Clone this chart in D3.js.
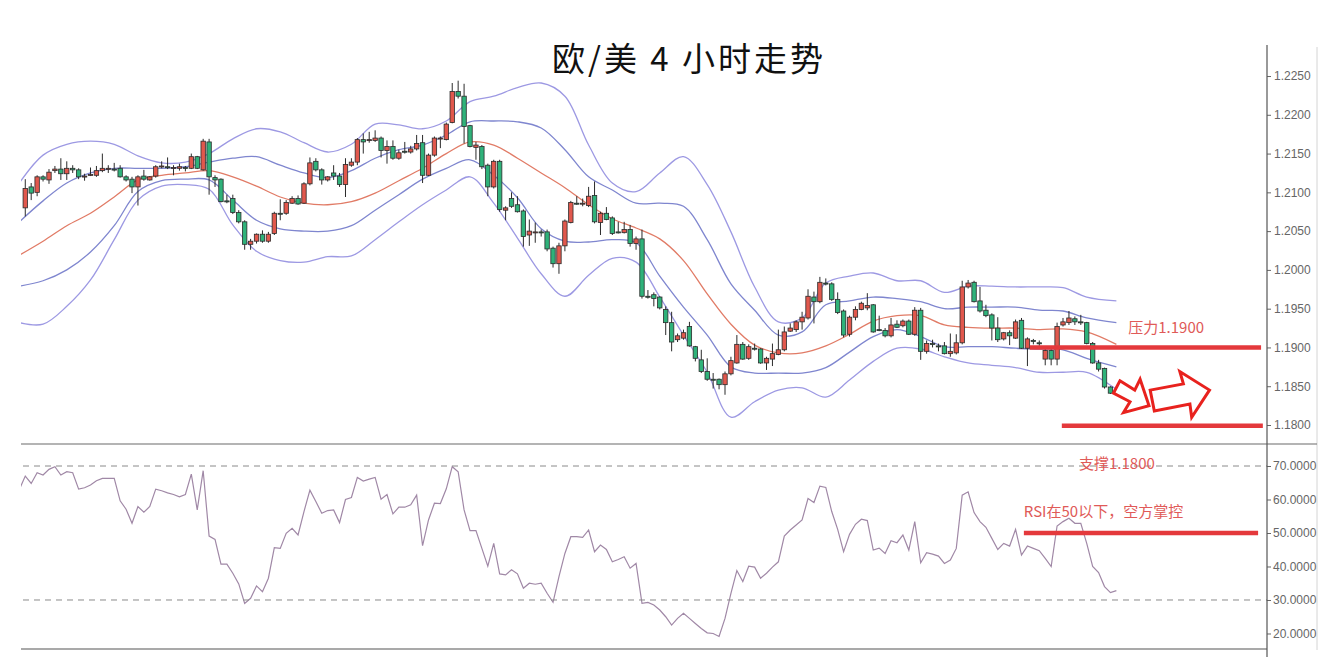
<!DOCTYPE html>
<html><head><meta charset="utf-8">
<script src="https://cdn.jsdelivr.net/npm/d3@7"></script>
<style>
html,body{margin:0;padding:0;background:#fff;}
svg{display:block;}
</style></head><body>
<svg id="chart" width="1325" height="657"></svg>
<script>
const titleText = "欧/美 4 小时走势";

const opens = [1.2080,1.2107,1.2100,1.2120,1.2116,1.2128,1.2130,1.2124,1.2131,1.2129,1.2120,1.2122,1.2122,1.2128,1.2130,1.2130,1.2131,1.2120,1.2117,1.2107,
1.2121,1.2116,1.2121,1.2133,1.2133,1.2132,1.2131,1.2132,1.2131,1.2146,1.2129,1.2165,1.2119,1.2117,1.2089,1.2092,1.2074,1.2062,1.2033,1.2037,
1.2046,1.2037,1.2047,1.2073,1.2073,1.2086,1.2092,1.2086,1.2111,1.2140,1.2129,1.2116,1.2125,1.2121,1.2110,1.2135,1.2139,1.2168,1.2167,1.2167,
1.2170,1.2154,1.2159,1.2144,1.2153,1.2152,1.2156,1.2164,1.2122,1.2148,1.2169,1.2168,1.2190,1.2230,1.2224,1.2186,1.2158,1.2159,1.2135,1.2107,
1.2140,1.2077,1.2092,1.2084,1.2076,1.2045,1.2048,1.2049,1.2049,1.2028,1.2008,1.2031,1.2061,1.2086,1.2085,1.2083,1.2096,1.2061,1.2073,1.2067,
1.2049,1.2048,1.2052,1.2034,1.2040,1.1966,1.1968,1.1965,1.1949,1.1932,1.1910,1.1912,1.1927,1.1901,1.1884,1.1869,1.1859,1.1859,1.1852,1.1866,
1.1880,1.1904,1.1886,1.1899,1.1898,1.1880,1.1885,1.1891,1.1897,1.1921,1.1923,1.1933,1.1938,1.1965,1.1959,1.1983,1.1982,1.1962,1.1947,1.1917,
1.1939,1.1949,1.1951,1.1955,1.1923,1.1922,1.1915,1.1930,1.1928,1.1934,1.1917,1.1948,1.1895,1.1905,1.1902,1.1902,1.1892,1.1893,1.1906,1.1978,
1.1984,1.1960,1.1948,1.1942,1.1925,1.1911,1.1919,1.1912,1.1935,1.1899,1.1909,1.1906,1.1885,1.1896,1.1885,1.1929,1.1932,1.1937,1.1933,1.1932,
1.1905,1.1880,1.1873,1.1849,1.1841];
const highs = [1.2117,1.2112,1.2122,1.2122,1.2130,1.2134,1.2144,1.2140,1.2135,1.2131,1.2124,1.2132,1.2134,1.2150,1.2135,1.2138,1.2135,1.2122,1.2120,1.2122,
1.2129,1.2121,1.2135,1.2140,1.2145,1.2135,1.2137,1.2134,1.2150,1.2147,1.2169,1.2169,1.2122,1.2118,1.2097,1.2097,1.2077,1.2064,1.2040,1.2047,
1.2051,1.2049,1.2075,1.2091,1.2090,1.2095,1.2096,1.2113,1.2145,1.2144,1.2131,1.2121,1.2135,1.2125,1.2144,1.2144,1.2170,1.2176,1.2178,1.2180,
1.2172,1.2167,1.2167,1.2155,1.2165,1.2160,1.2174,1.2174,1.2150,1.2172,1.2172,1.2190,1.2241,1.2244,1.2240,1.2187,1.2165,1.2161,1.2137,1.2142,
1.2142,1.2082,1.2100,1.2095,1.2078,1.2065,1.2061,1.2052,1.2052,1.2030,1.2035,1.2065,1.2089,1.2095,1.2092,1.2107,1.2114,1.2075,1.2081,1.2069,
1.2062,1.2062,1.2058,1.2043,1.2052,1.1974,1.1971,1.1966,1.1953,1.1946,1.1918,1.1923,1.1933,1.1902,1.1897,1.1886,1.1867,1.1860,1.1869,1.1888,
1.1916,1.1907,1.1904,1.1905,1.1899,1.1888,1.1905,1.1923,1.1927,1.1931,1.1935,1.1946,1.1975,1.1972,1.1991,1.1989,1.1984,1.1971,1.1949,1.1941,
1.1953,1.1959,1.1970,1.1956,1.1941,1.1925,1.1938,1.1935,1.1936,1.1936,1.1952,1.1951,1.1909,1.1910,1.1905,1.1907,1.1918,1.1917,1.1986,1.1987,
1.1986,1.1978,1.1955,1.1944,1.1939,1.1920,1.1922,1.1936,1.1938,1.1913,1.1911,1.1909,1.1899,1.1898,1.1932,1.1938,1.1947,1.1940,1.1942,1.1933,
1.1907,1.1884,1.1874,1.1850,1.1844];
const lows = [1.2069,1.2090,1.2095,1.2114,1.2111,1.2125,1.2116,1.2116,1.2125,1.2117,1.2115,1.2121,1.2120,1.2126,1.2125,1.2127,1.2119,1.2114,1.2099,1.2083,
1.2115,1.2115,1.2119,1.2131,1.2130,1.2122,1.2128,1.2127,1.2130,1.2130,1.2128,1.2097,1.2107,1.2087,1.2086,1.2072,1.2060,1.2026,1.2026,1.2034,
1.2035,1.2035,1.2045,1.2064,1.2071,1.2085,1.2084,1.2085,1.2109,1.2127,1.2110,1.2114,1.2116,1.2107,1.2094,1.2133,1.2135,1.2150,1.2164,1.2165,
1.2145,1.2137,1.2142,1.2142,1.2150,1.2150,1.2154,1.2112,1.2121,1.2146,1.2157,1.2167,1.2189,1.2221,1.2163,1.2158,1.2142,1.2130,1.2095,1.2105,
1.2075,1.2064,1.2080,1.2074,1.2030,1.2031,1.2035,1.2043,1.2024,1.2003,1.1995,1.2024,1.2060,1.2084,1.2082,1.2081,1.2060,1.2045,1.2064,1.2045,
1.2047,1.2047,1.2030,1.2026,1.1963,1.1963,1.1953,1.1949,1.1916,1.1895,1.1907,1.1910,1.1901,1.1882,1.1867,1.1857,1.1847,1.1846,1.1839,1.1864,
1.1879,1.1884,1.1884,1.1896,1.1879,1.1871,1.1876,1.1890,1.1895,1.1920,1.1920,1.1923,1.1936,1.1931,1.1957,1.1980,1.1960,1.1943,1.1913,1.1914,
1.1935,1.1948,1.1948,1.1919,1.1921,1.1913,1.1913,1.1925,1.1926,1.1916,1.1915,1.1884,1.1892,1.1900,1.1895,1.1891,1.1888,1.1891,1.1904,1.1976,
1.1958,1.1945,1.1939,1.1909,1.1907,1.1909,1.1903,1.1911,1.1898,1.1876,1.1904,1.1902,1.1877,1.1877,1.1877,1.1927,1.1929,1.1929,1.1929,1.1904,
1.1879,1.1869,1.1847,1.1840,1.1838];
const closes = [1.2105,1.2099,1.2120,1.2117,1.2126,1.2130,1.2124,1.2131,1.2129,1.2120,1.2121,1.2123,1.2128,1.2131,1.2131,1.2129,1.2120,1.2116,1.2107,1.2120,
1.2117,1.2120,1.2133,1.2134,1.2132,1.2132,1.2133,1.2131,1.2146,1.2131,1.2166,1.2120,1.2116,1.2088,1.2088,1.2074,1.2062,1.2033,1.2037,1.2046,
1.2037,1.2046,1.2073,1.2072,1.2087,1.2092,1.2085,1.2111,1.2138,1.2129,1.2116,1.2120,1.2121,1.2110,1.2136,1.2139,1.2168,1.2165,1.2168,1.2170,
1.2154,1.2159,1.2144,1.2151,1.2152,1.2156,1.2163,1.2122,1.2148,1.2170,1.2170,1.2188,1.2230,1.2224,1.2185,1.2159,1.2161,1.2133,1.2107,1.2140,
1.2078,1.2080,1.2082,1.2075,1.2043,1.2050,1.2049,1.2048,1.2027,1.2008,1.2031,1.2063,1.2087,1.2085,1.2086,1.2095,1.2062,1.2073,1.2065,1.2047,
1.2048,1.2052,1.2034,1.2040,1.1966,1.1965,1.1963,1.1951,1.1932,1.1907,1.1915,1.1919,1.1902,1.1886,1.1869,1.1859,1.1858,1.1852,1.1866,1.1883,
1.1904,1.1885,1.1901,1.1898,1.1880,1.1886,1.1892,1.1897,1.1920,1.1925,1.1933,1.1939,1.1966,1.1959,1.1984,1.1982,1.1962,1.1945,1.1916,1.1939,
1.1949,1.1957,1.1954,1.1920,1.1922,1.1915,1.1929,1.1926,1.1934,1.1917,1.1948,1.1895,1.1905,1.1904,1.1901,1.1892,1.1895,1.1906,1.1978,1.1983,
1.1959,1.1947,1.1941,1.1925,1.1910,1.1919,1.1915,1.1933,1.1899,1.1911,1.1908,1.1905,1.1896,1.1885,1.1927,1.1933,1.1938,1.1933,1.1932,1.1905,
1.1880,1.1872,1.1849,1.1841,1.1842];

// Bollinger bands (bar index, upper 2σ, upper 1σ, middle, lower 1σ, lower 2σ)
const bandBars = [-1,3,7,11,15,19,23,27,31,35,39,43,47,51,55,59,63,67,71,75,79,83,87,91,95,99,103,107,111,115,119,123,127,131,135,139,143,147,151,155,159,163,167,171,175,179,184];
const bandUpper2 = [1.2112,1.2148,1.2162,1.2166,1.2162,1.2147,1.2138,1.2139,1.2150,1.2169,1.2182,1.2178,1.2164,1.2152,1.2162,1.2188,1.2187,1.2182,1.2192,1.2217,1.2224,1.2235,1.2241,1.2224,1.2161,1.2112,1.2101,1.2125,1.2146,1.2110,1.2049,1.1978,1.1933,1.1938,1.1983,1.1992,1.1996,1.1986,1.1986,1.1971,1.1979,1.1979,1.1978,1.1978,1.1977,1.1965,1.1960];
const bandUpper1 = [1.2062,1.2089,1.2112,1.2125,1.2131,1.2131,1.2131,1.2133,1.2139,1.2144,1.2146,1.2135,1.2125,1.2119,1.2128,1.2144,1.2155,1.2161,1.2174,1.2191,1.2192,1.2191,1.2183,1.2155,1.2120,1.2103,1.2086,1.2086,1.2082,1.2039,1.1982,1.1948,1.1916,1.1920,1.1955,1.1960,1.1965,1.1963,1.1959,1.1950,1.1952,1.1952,1.1952,1.1948,1.1947,1.1938,1.1932];
const bandMiddle = [1.2019,1.2037,1.2057,1.2073,1.2094,1.2116,1.2122,1.2125,1.2128,1.2120,1.2108,1.2094,1.2086,1.2084,1.2088,1.2099,1.2115,1.2131,1.2150,1.2165,1.2161,1.2144,1.2125,1.2106,1.2084,1.2066,1.2054,1.2040,1.2012,1.1969,1.1930,1.1903,1.1893,1.1893,1.1902,1.1917,1.1934,1.1941,1.1941,1.1929,1.1926,1.1925,1.1925,1.1923,1.1924,1.1920,1.1904];
const bandLower1 = [1.1979,1.1986,1.2000,1.2023,1.2057,1.2101,1.2115,1.2117,1.2116,1.2090,1.2064,1.2053,1.2050,1.2050,1.2057,1.2077,1.2097,1.2117,1.2131,1.2142,1.2122,1.2093,1.2053,1.2037,1.2036,1.2039,1.2035,1.1992,1.1952,1.1916,1.1875,1.1867,1.1867,1.1867,1.1874,1.1894,1.1914,1.1923,1.1914,1.1901,1.1901,1.1901,1.1899,1.1898,1.1897,1.1886,1.1875];
const bandLower2 = [1.1932,1.1930,1.1953,1.1987,1.2039,1.2090,1.2108,1.2110,1.2104,1.2058,1.2024,1.2012,1.2010,1.2017,1.2018,1.2039,1.2062,1.2084,1.2103,1.2120,1.2086,1.2041,1.1995,1.1966,1.1993,1.2015,1.2010,1.1965,1.1916,1.1868,1.1810,1.1830,1.1845,1.1848,1.1836,1.1858,1.1882,1.1899,1.1898,1.1888,1.1880,1.1877,1.1874,1.1868,1.1868,1.1868,1.1846];

// RSI, first value belongs to bar -1
const rsiFirstBar = -1;
const rsiValues = [63.0,67.0,64.8,68.0,67.3,69.0,69.8,67.3,68.3,68.0,63.1,63.5,64.3,65.6,66.3,66.3,66.3,59.6,57.1,52.9,
57.9,56.2,57.9,63.1,62.6,62.0,61.5,60.8,61.5,67.6,56.9,68.6,49.1,48.1,40.7,40.7,38.0,34.8,29.0,30.5,
34.2,32.5,36.5,45.6,45.4,49.9,51.4,49.4,56.4,62.8,59.4,55.9,56.7,56.9,53.1,60.0,60.6,66.6,65.5,66.1,
66.6,60.1,61.5,55.7,57.7,57.7,58.4,61.3,46.2,53.9,58.9,58.8,63.2,69.8,68.3,56.9,50.7,50.7,45.4,40.1,
46.9,37.8,37.5,39.0,37.8,33.5,35.0,34.7,35.0,32.0,29.3,37.0,43.9,48.9,48.9,48.7,50.9,44.4,46.4,45.1,
41.4,42.1,42.9,39.5,40.9,29.0,29.3,28.5,27.0,25.0,22.5,24.5,26.0,24.5,23.0,21.5,20.2,20.0,19.1,24.5,
32.0,38.8,35.5,40.1,39.8,36.5,38.0,39.8,41.4,49.1,50.9,52.4,53.9,60.3,59.1,64.0,63.6,56.4,51.1,44.4,
49.6,52.6,54.1,53.7,44.9,45.5,43.9,47.7,47.1,49.4,44.9,53.4,41.1,44.1,43.7,43.1,40.9,41.9,45.4,61.3,
62.3,56.1,53.4,51.7,48.4,45.1,46.9,46.1,51.1,43.4,46.1,45.4,44.7,42.4,40.0,52.1,53.4,54.4,52.9,52.9,
46.9,40.0,38.2,34.0,32.2,32.8];

const priceTicks = [1.1800,1.1850,1.1900,1.1950,1.2000,1.2050,1.2100,1.2150,1.2200,1.2250];
const rsiTicks = [20,30,40,50,60,70];
const rsiLevels = [70,30];

// annotations (bar index, value)
const resistance = {price:1.1900, from:169.4, to:208.4, label:"压力1.1900", labelBar:186, labelPrice:1.1918};
const support = {price:1.1799, from:174.8, to:208.7, label:"支撑1.1800", labelBar:177.7, labelRsi:69.1};
const rsiNote = {value:50, from:168.4, to:207.9, label:"RSI在50以下，空方掌控", labelBar:168.4, labelRsi:54.8};
const arrowDown = [[184.6,1.1857],[187.1,1.1845],[188.0,1.1859],[189.5,1.1825],[185.2,1.1816],[186.3,1.1830],[183.5,1.1841]];
const arrowRight = [[189.7,1.1845],[195.3,1.1853],[194.7,1.1869],[199.7,1.1845],[196.7,1.1810],[196.4,1.1827],[190.4,1.1818]];

const svg = d3.select("#chart");
const plotLeft = 21, axisX = 1267, borderX = 1317;
const mainTop = 45, mainBottom = 444, rsiBottom = 649;

const x = d3.scaleLinear().domain([-0.72, 209.4]).range([plotLeft, axisX]);
const yMain = d3.scaleLinear().domain([1.17755, 1.2290]).range([mainBottom, mainTop]);
const yRsi = d3.scaleLinear().domain([15.37, 76.57]).range([rsiBottom, mainBottom]);

const defs = svg.append("defs");
defs.append("clipPath").attr("id","clipMain").append("rect")
  .attr("x",plotLeft).attr("y",mainTop).attr("width",axisX-plotLeft).attr("height",mainBottom-mainTop);
defs.append("clipPath").attr("id","clipRsi").append("rect")
  .attr("x",plotLeft).attr("y",mainBottom).attr("width",axisX-plotLeft).attr("height",rsiBottom-mainBottom);

// title
svg.append("text").attr("x",689).attr("y",71).attr("text-anchor","middle")
  .attr("font-family","'Noto Sans CJK SC','Noto Sans',sans-serif").attr("font-size",33)
  .attr("letter-spacing","3px").attr("fill","#111").text(titleText);

// frame lines
svg.append("line").attr("x1",borderX).attr("x2",borderX).attr("y1",47).attr("y2",650).attr("stroke","#d4d4d4").attr("stroke-width",1);
svg.append("line").attr("x1",plotLeft).attr("x2",borderX).attr("y1",mainBottom).attr("y2",mainBottom).attr("stroke","#6a6a6a").attr("stroke-width",1.2);
svg.append("line").attr("x1",plotLeft).attr("x2",axisX).attr("y1",rsiBottom).attr("y2",rsiBottom).attr("stroke","#555").attr("stroke-width",1.2);

// main panel content
const gMain = svg.append("g").attr("clip-path","url(#clipMain)");
const bandIdx = d3.range(bandBars.length);
const bandLine = (arr) => d3.line().x(i => x(bandBars[i])).y(i => yMain(arr[i])).curve(d3.curveCatmullRom.alpha(0.5))(bandIdx);
[[bandUpper2,"#9d99e3"],[bandUpper1,"#7f86cf"],[bandLower1,"#7f86cf"],[bandLower2,"#9d99e3"],[bandMiddle,"#e17b66"]].forEach(([arr,col]) => {
  gMain.append("path").attr("d",bandLine(arr)).attr("fill","none").attr("stroke",col).attr("stroke-width",1.3);
});

const idx = d3.range(opens.length);
const upColor = "#e1584d", downColor = "#2fb27a";
gMain.selectAll("line.wick").data(idx).enter().append("line")
  .attr("x1",i=>x(i)).attr("x2",i=>x(i)).attr("y1",i=>yMain(highs[i])).attr("y2",i=>yMain(lows[i]))
  .attr("stroke","#2b2b2b").attr("stroke-width",1);
const bw = 4.4;
gMain.selectAll("rect.body").data(idx).enter().append("rect")
  .attr("x",i=>x(i)-bw/2).attr("width",bw)
  .attr("y",i=>yMain(Math.max(opens[i],closes[i])))
  .attr("height",i=>Math.max(1, Math.abs(yMain(opens[i])-yMain(closes[i]))))
  .attr("fill",i=> closes[i] >= opens[i] ? upColor : downColor)
  .attr("stroke","#2b2b2b").attr("stroke-width",0.8);

// annotations main
const annRed = "#e4393c", annText = "#e05a58";
svg.append("line").attr("x1",x(resistance.from)).attr("x2",x(resistance.to)).attr("y1",yMain(resistance.price)).attr("y2",yMain(resistance.price))
  .attr("stroke",annRed).attr("stroke-width",4.5);
svg.append("line").attr("x1",x(support.from)).attr("x2",x(support.to)).attr("y1",yMain(support.price)).attr("y2",yMain(support.price))
  .attr("stroke",annRed).attr("stroke-width",4.5);
svg.append("text").attr("x",x(resistance.labelBar)).attr("y",yMain(resistance.labelPrice))
  .attr("font-family","'Noto Sans CJK SC',sans-serif").attr("font-size",15).attr("fill",annText).text(resistance.label);
const arrowLine = d3.line().x(d=>x(d[0])).y(d=>yMain(d[1]));
[arrowDown, arrowRight].forEach(a => {
  svg.append("path").attr("d",arrowLine(a)+"Z").attr("fill","#fff").attr("stroke","#e8221e").attr("stroke-width",3).attr("stroke-linejoin","miter");
});

// RSI panel
const gRsi = svg.append("g").attr("clip-path","url(#clipRsi)");
rsiLevels.forEach(v => {
  svg.append("line").attr("x1",plotLeft+2).attr("x2",axisX).attr("y1",yRsi(v)).attr("y2",yRsi(v))
    .attr("stroke","#8a8a8a").attr("stroke-width",1).attr("stroke-dasharray","6,5");
});
const rsiLine = d3.line().x((d,i)=>x(rsiFirstBar+i)).y(d=>yRsi(d));
gRsi.append("path").attr("d",rsiLine(rsiValues)).attr("fill","none").attr("stroke","#a088a6").attr("stroke-width",1.2);

svg.append("line").attr("x1",x(rsiNote.from)).attr("x2",x(rsiNote.to)).attr("y1",yRsi(rsiNote.value)).attr("y2",yRsi(rsiNote.value))
  .attr("stroke",annRed).attr("stroke-width",4.5);
svg.append("text").attr("x",x(rsiNote.labelBar)).attr("y",yRsi(rsiNote.labelRsi))
  .attr("font-family","'Noto Sans CJK SC',sans-serif").attr("font-size",15).attr("fill",annText).text(rsiNote.label);
svg.append("text").attr("x",x(support.labelBar)).attr("y",yRsi(support.labelRsi))
  .attr("font-family","'Noto Sans CJK SC',sans-serif").attr("font-size",15).attr("fill",annText).text(support.label);

// axes
const axisMain = d3.axisRight(yMain).tickValues(priceTicks).tickFormat(d3.format(".4f")).tickSize(4).tickPadding(3);
const axisR = d3.axisRight(yRsi).tickValues(rsiTicks).tickFormat(d3.format(".4f")).tickSize(4).tickPadding(2);
const gA = svg.append("g").attr("transform",`translate(${axisX},0)`).call(axisMain);
const gB = svg.append("g").attr("transform",`translate(${axisX},0)`).call(axisR);
[gA,gB].forEach(g => {
  g.select(".domain").remove();
  g.selectAll(".tick line").attr("stroke","#666");
  g.selectAll(".tick text").attr("font-family","'Liberation Sans',Arial,sans-serif").attr("font-size",12).attr("fill","#666");
});
svg.append("line").attr("x1",axisX).attr("x2",axisX).attr("y1",mainTop).attr("y2",657).attr("stroke","#555").attr("stroke-width",1.2);
</script>
</body></html>
